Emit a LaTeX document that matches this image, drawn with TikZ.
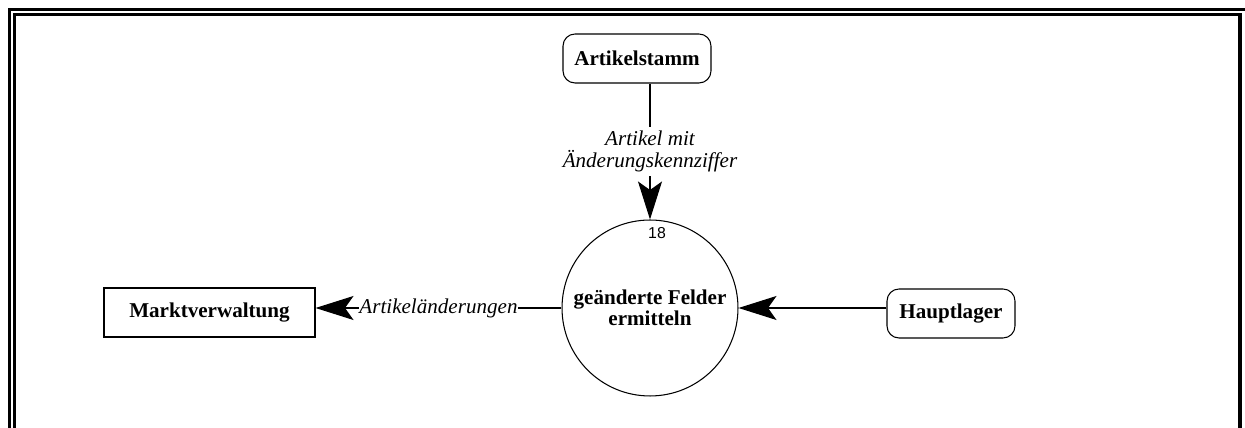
\documentclass[tikz,border=0pt]{standalone}
\usepackage{fontspec}
\setmainfont{Liberation Serif}
\newfontfamily\numfont{Liberation Sans}
\usetikzlibrary{arrows.meta}

\begin{document}
\begin{tikzpicture}
[x=0.02cm,y=-0.02cm,
 framedecorate/.style={draw,line width=0.07cm},%
 termdecorate/.style={shape=rectangle,rounded corners=0.24cm,draw,line width=0.6pt,
   minimum height=0.98cm,font=\fontsize{12}{14}\selectfont\bfseries},%
 boxdecorate/.style={shape=rectangle,draw,line width=0.6pt,
   minimum height=0.98cm,font=\fontsize{12}{14}\selectfont\bfseries},%
 procdecorate/.style={shape=circle,draw,line width=0.6pt,minimum size=3.52cm,
   inner sep=0pt,align=center,font=\fontsize{12}{12}\selectfont\bfseries},%
 numdecorate/.style={inner sep=0pt,font=\numfont\fontsize{9}{10}\selectfont},%
 flowdecorate/.style={-{Stealth[length=0.76cm,width=0.48cm,inset=0.17cm]},line width=0.6pt},%
 labeldecorate/.style={fill=white,inner xsep=0.5pt,inner ysep=2pt,align=center,
   font=\fontsize{12}{12.5}\selectfont\itshape}]
%% page frame, cut off at the page edge
\useasboundingbox (0,0) rectangle (1245,428);
\begin{scope}
  \clip (0,0) rectangle (1245,428);
  \draw[framedecorate] (9.5,9.5) rectangle (1260,445);
  \draw[framedecorate] (14.5,14.5) rectangle (1240,440);
\end{scope}
%% nodes or vertices
\node (proc) at (650,308) [procdecorate] {geänderte Felder\\ermitteln};
\node (procnum) at (657,233) [numdecorate] {18};
\node (stamm) at (637,58.5) [termdecorate,minimum width=2.96cm] {Artikelstamm};
\node (markt) at (209.5,312.5) [boxdecorate,minimum width=4.22cm] {Marktverwaltung};
\node (haupt) at (951,313.5) [termdecorate,minimum width=2.56cm] {Hauptlager};
%% edges or flows
\path
  (stamm.south -| proc.north) edge[flowdecorate]
    node[labeldecorate] {Artikel mit\\Änderungskennziffer} (proc.north)
  (proc.west) edge[flowdecorate]
    node[labeldecorate] {Artikeländerungen} (markt.east |- proc.west)
  (haupt.west |- proc.east) edge[flowdecorate] (proc.east);
\end{tikzpicture}
\end{document}
